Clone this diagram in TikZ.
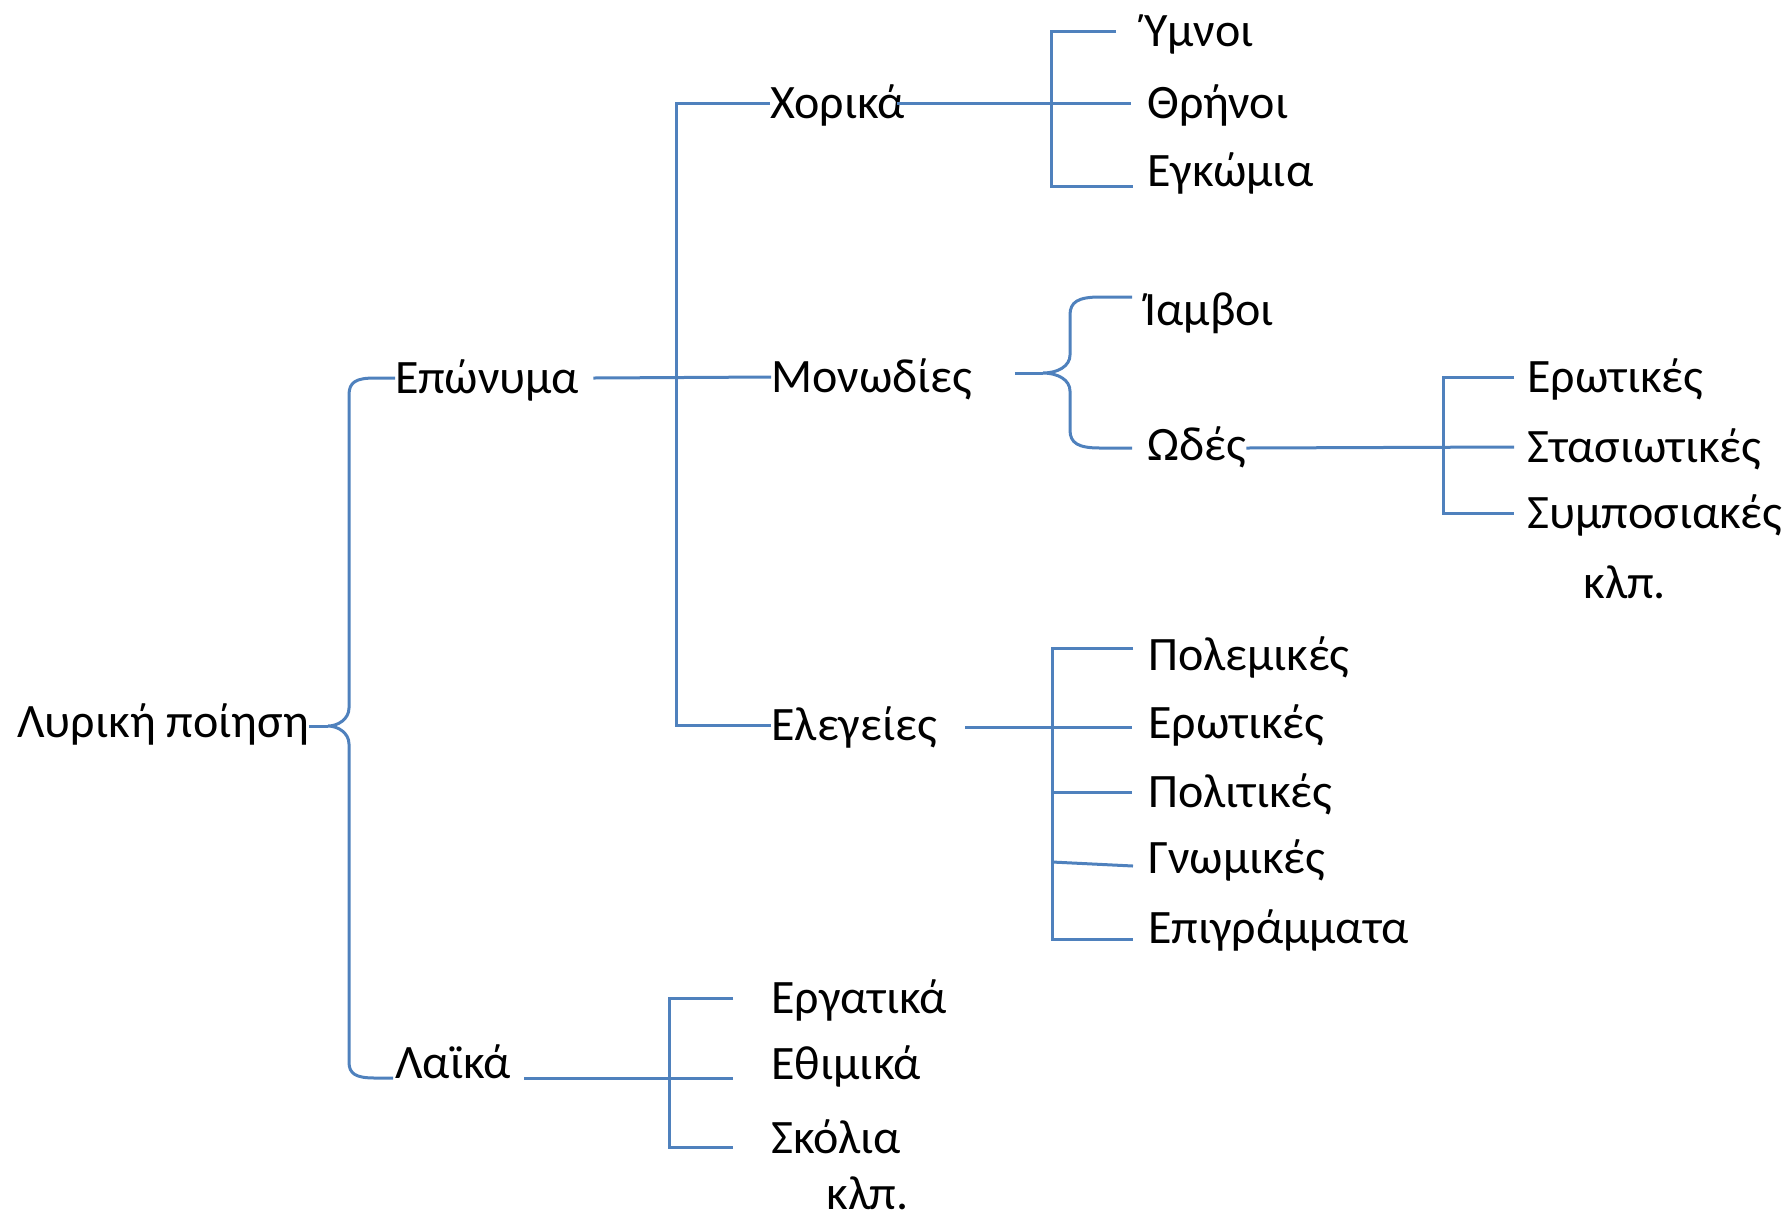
\documentclass[tikz,border=0pt]{standalone}
\usepackage{fontspec}
\setmainfont{Carlito}
\definecolor{lineblue}{HTML}{4F81BD}

\begin{document}
\begin{tikzpicture}[
		x=0.5pt, y=-0.5pt,
		branch/.style={
			draw=lineblue,
			line width=1.5pt,
		},
		kind/.style={
			anchor=base west,
			inner sep=0pt,
			text height=18pt,
			text depth=3pt,
			font=\fontsize{24}{29}\selectfont,
		},
	]
	\useasboundingbox (0,0) rectangle (1788,1222);

	\node [kind] (lyr) at (17,737) {Λυρική ποίηση};
	\node [kind] (epo) at (395,393) {Επώνυμα};
	\node [kind] (lai) at (395,1078) {Λαϊκά};

	\node [kind] (hor) at (770,118) {Χορικά};
	\node [kind] (mon) at (771,392) {Μονωδίες};
	\node [kind] (ele) at (771,740) {Ελεγείες};

	\node [kind] (ymn) at (1144,46) {Ύμνοι};
	\node [kind] (thr) at (1147,118) {Θρήνοι};
	\node [kind] (egk) at (1147,186) {Εγκώμια};

	\node [kind] (iam) at (1144,325) {Ίαμβοι};
	\node [kind] (ode) at (1147,460) {Ωδές};
	\node [kind] (ero) at (1527,392) {Ερωτικές};
	\node [kind] (sta) at (1527,462) {Στασιωτικές};
	\node [kind] (sym) at (1527,528) {Συμποσιακές};
	\node [kind] (klp) at (1583,598) {κλπ.};

	\node [kind] (pol) at (1148,670) {Πολεμικές};
	\node [kind] (erw) at (1148,738) {Ερωτικές};
	\node [kind] (pli) at (1148,807) {Πολιτικές};
	\node [kind] (gno) at (1148,873) {Γνωμικές};
	\node [kind] (epi) at (1148,943) {Επιγράμματα};

	\node [kind] (erg) at (771,1013) {Εργατικά};
	\node [kind] (eth) at (771,1079) {Εθιμικά};
	\node [kind] (sko) at (771,1153) {Σκόλια};
	\node [kind] (etc) at (826,1209) {κλπ.};

	\coordinate (tip) at (328,726);
	\coordinate (laiIn) at (393,1078);
	\coordinate (j1) at (676,376);
	\coordinate (j2) at (1051,104);
	\coordinate (j3) at (1043,373);
	\coordinate (iamIn) at (1132,297);
	\coordinate (odeIn) at (1132,448);
	\coordinate (j4) at (1443,448);
	\coordinate (j5) at (1052,727);
	\coordinate (polIn) at (1133,648);
	\coordinate (epiIn) at (1133,939);
	\coordinate (gnoIn) at (1133,866);
	\coordinate (laiOut) at (524,1078);
	\coordinate (j6) at (669,1078);
	\coordinate (ethIn) at (733,1078);
	\coordinate (skoIn) at (733,1147);

	% root brace
	\draw [branch] (lyr.east |- tip) -- (tip);
	\draw [branch] (epo.west) -- (375,378) .. controls (356,378) and (349,382) .. (349,395)
		-- (349,708) .. controls (349,719) and (338,726) .. (tip)
		.. controls (338,726) and (349,733) .. (349,744)
		-- (349,1062) .. controls (349,1074) and (356,1078) .. (375,1078) -- (laiIn);

	% Επώνυμα
	\draw [branch] ([xshift=7pt]epo.east) -- (mon.west);
	\draw [branch] (hor.west) -| (j1) |- (ele.west);

	% Χορικά
	\draw [branch] ([xshift=-4pt]hor.east) -- ([xshift=-8pt]thr.west);
	\draw [branch] ([xshift=-14pt]ymn.west) -| (j2) |- ([xshift=-7pt]egk.base west);

	% Μονωδίες
	\draw [branch] ([xshift=21pt]mon.east |- j3) -- (j3);
	\draw [branch] (iamIn) -- (1100,297) .. controls (1078,297) and (1070,302) .. (1070,315)
		-- (1070,355) .. controls (1070,366) and (1058,373) .. (j3)
		.. controls (1058,373) and (1070,380) .. (1070,391)
		-- (1070,430) .. controls (1070,443) and (1078,448) .. (1100,448) -- (odeIn);

	% Ωδές
	\draw [branch] (ode.east |- j4) -- ([xshift=-6.5pt]sta.west);
	\draw [branch] ([xshift=-6.5pt]ero.west) -| (j4) |- ([xshift=-6.5pt]sym.west);

	% Ελεγείες
	\draw [branch] ([xshift=14pt]ele.east |- j5) -- ([xshift=-8pt]erw.west |- j5);
	\draw [branch] (polIn) -| (j5) |- (epiIn);
	\draw [branch] (j5 |- pli.west) -- ([xshift=-8pt]pli.west);
	\draw [branch] ([yshift=2pt]j5 |- gnoIn) -- (gnoIn);

	% Λαϊκά
	\draw [branch] (laiOut) -- (ethIn);
	\draw [branch] ([xshift=-19pt]erg.west) -| (j6) |- (skoIn);

\end{tikzpicture}
\end{document}
